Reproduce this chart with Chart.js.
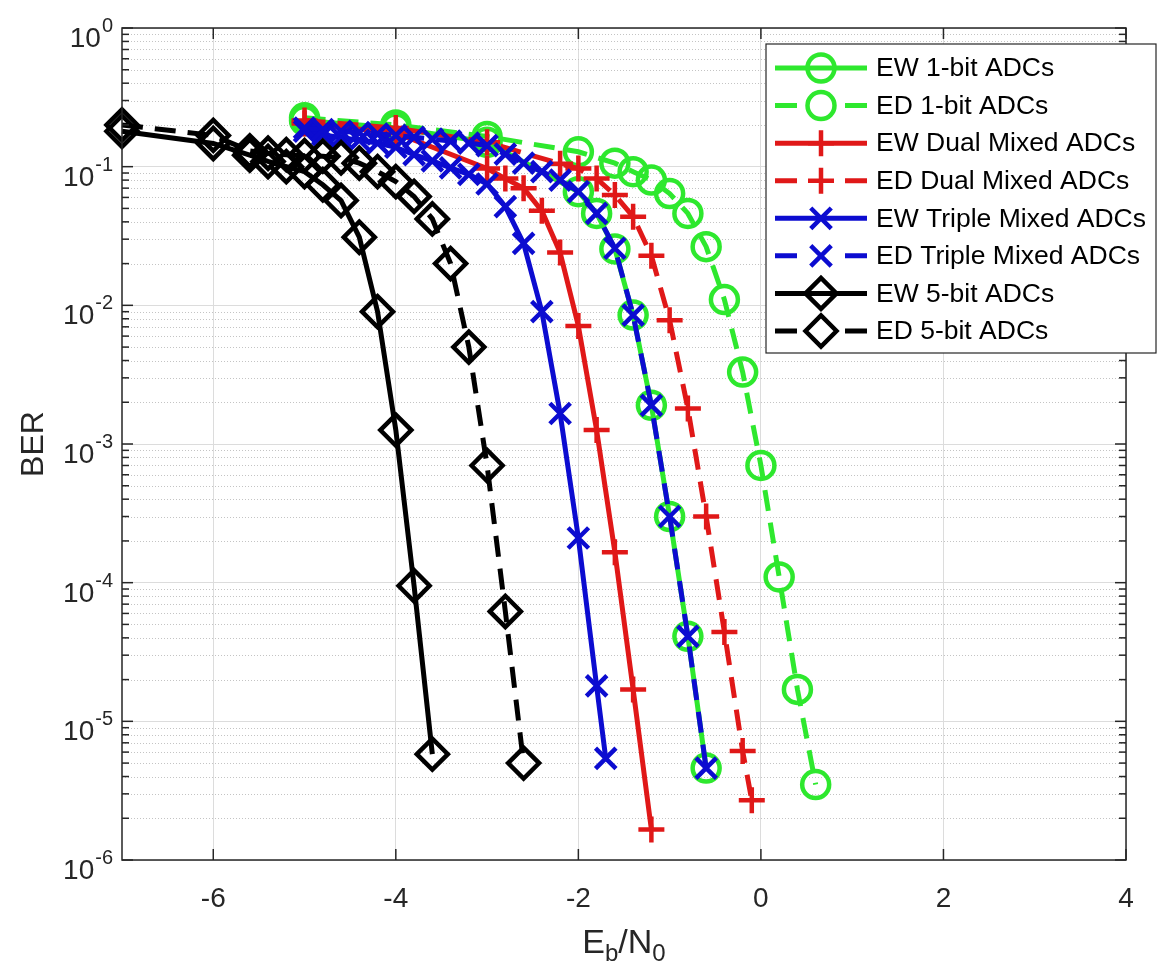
<!DOCTYPE html>
<html>
<head>
<meta charset="utf-8">
<title>BER vs Eb/N0</title>
<script src="https://cdn.jsdelivr.net/npm/chart.js@4.4.1/dist/chart.umd.min.js"></script>
<style>
  html, body { margin: 0; padding: 0; background: #fff; }
  canvas { display: block; }
</style>
</head>
<body>
<canvas id="berChart" width="1157" height="971"></canvas>
<script>
// ---- data (Eb/N0 in dB, BER) ----
const ew1bitX   = [-5, -4, -3, -2, -1.8, -1.6, -1.4, -1.2, -1, -0.8, -0.6];
const ew1bitBer = [0.215, 0.19, 0.15, 0.066, 0.046, 0.0255, 8.5e-3, 1.9e-3, 3.0e-4, 4.1e-5, 4.6e-6];

const ed1bitX   = [-5, -4, -3, -2, -1.6, -1.4, -1.2, -1, -0.8, -0.6, -0.4, -0.2, 0, 0.2, 0.4, 0.6];
const ed1bitBer = [0.225, 0.2, 0.165, 0.128, 0.106, 0.092, 0.08, 0.064, 0.046, 0.0265, 0.011, 3.3e-3, 7.0e-4, 1.1e-4, 1.7e-5, 3.5e-6];

const ewDualX   = [-5, -4, -3, -2.8, -2.6, -2.4, -2.2, -2, -1.8, -1.6, -1.4, -1.2];
const ewDualBer = [0.205, 0.175, 0.097, 0.082, 0.07, 0.048, 0.024, 7.1e-3, 1.26e-3, 1.66e-4, 1.7e-5, 1.66e-6];

const edDualX   = [-5, -4, -3, -2.2, -2, -1.8, -1.6, -1.4, -1.2, -1, -0.8, -0.6, -0.4, -0.2, -0.1];
const edDualBer = [0.215, 0.19, 0.15, 0.105, 0.097, 0.082, 0.0625, 0.0436, 0.0228, 7.8e-3, 1.8e-3, 3.0e-4, 4.4e-5, 6.1e-6, 2.7e-6];

const ewTripleX   = [-5, -4.8, -4.6, -4.4, -4.2, -4, -3.8, -3.6, -3.4, -3.2, -3, -2.8, -2.6, -2.4, -2.2, -2, -1.8, -1.7];
const ewTripleBer = [0.18, 0.17, 0.162, 0.155, 0.148, 0.138, 0.122, 0.11, 0.098, 0.088, 0.075, 0.0515, 0.028, 9.0e-3, 1.66e-3, 2.1e-4, 1.8e-5, 5.4e-6];

const edTripleX   = [-5, -4.8, -4.6, -4.4, -4.2, -4, -3.8, -3.6, -3.4, -3.2, -3, -2.8, -2.6, -2.4, -2.2, -2, -1.8, -1.6, -1.4, -1.2, -1, -0.8, -0.6];
const edTripleBer = [0.19, 0.185, 0.18, 0.176, 0.172, 0.168, 0.163, 0.158, 0.153, 0.148, 0.142, 0.123, 0.106, 0.092, 0.08, 0.066, 0.046, 0.0258, 8.5e-3, 1.9e-3, 3.0e-4, 4.1e-5, 4.6e-6];

const ew5bitX   = [-7, -6, -5.6, -5.4, -5.2, -5, -4.8, -4.6, -4.4, -4.2, -4, -3.8, -3.6];
const ew5bitBer = [0.18, 0.147, 0.121, 0.109, 0.1, 0.092, 0.074, 0.057, 0.031, 9.0e-3, 1.26e-3, 9.5e-5, 5.8e-6];

const ed5bitX   = [-7, -6, -5.6, -5.4, -5.2, -5, -4.8, -4.6, -4.4, -4.2, -4, -3.8, -3.6, -3.4, -3.2, -3, -2.8, -2.6];
const ed5bitBer = [0.2, 0.168, 0.13, 0.125, 0.122, 0.12, 0.119, 0.116, 0.106, 0.092, 0.078, 0.061, 0.042, 0.02, 5.0e-3, 7.0e-4, 6.2e-5, 5.0e-6];

const seriesLabels = [
  "EW 1-bit ADCs", "ED 1-bit ADCs",
  "EW Dual Mixed ADCs", "ED Dual Mixed ADCs",
  "EW Triple Mixed ADCs", "ED Triple Mixed ADCs",
  "EW 5-bit ADCs", "ED 5-bit ADCs"
];

const xTickValues = [-6, -4, -2, 0, 2, 4];
const yDecades = [-6, -5, -4, -3, -2, -1, 0];
const xTitle = ["E", "b", "/N", "0"];   // E_b/N_0
const yTitle = "BER";

// ---- styling ----
const FONT = '"Liberation Sans", Arial, Helvetica, sans-serif';
const AXIS_COLOR = "#262626";
const GREEN = "#2ee82e";
const RED = "#e01818";
const BLUE = "#0c0cd0";
const BLACK = "#000000";
const DASH = [21, 12];

const markerSize = { circle: 13.5, cross: 13, crossRot: 14.5, rectRot: 15.5 };

const toPoints = (xs, ys) => xs.map((x, i) => ({ x: x, y: ys[i] }));

const makeSeries = (idx, xs, ys, color, dashed, marker) => ({
  label: seriesLabels[idx],
  data: toPoints(xs, ys),
  borderColor: color,
  backgroundColor: "rgba(0,0,0,0)",
  borderWidth: 5,
  borderDash: dashed ? DASH : [],
  pointStyle: marker,
  pointRadius: markerSize[marker],
  pointBorderWidth: 4.5,
  pointBorderColor: color,
  pointBackgroundColor: "rgba(0,0,0,0)",
  tension: 0,
  clip: false,
  order: seriesLabels.length - idx   // later series drawn on top, like MATLAB
});

const datasets = [
  makeSeries(0, ew1bitX, ew1bitBer, GREEN, false, "circle"),
  makeSeries(1, ed1bitX, ed1bitBer, GREEN, true, "circle"),
  makeSeries(2, ewDualX, ewDualBer, RED, false, "cross"),
  makeSeries(3, edDualX, edDualBer, RED, true, "cross"),
  makeSeries(4, ewTripleX, ewTripleBer, BLUE, false, "crossRot"),
  makeSeries(5, edTripleX, edTripleBer, BLUE, true, "crossRot"),
  makeSeries(6, ew5bitX, ew5bitBer, BLACK, false, "rectRot"),
  makeSeries(7, ed5bitX, ed5bitBer, BLACK, true, "rectRot")
];

// ---- axes frame, minor grid, tick labels, titles, legend ----
const matlabFrame = {
  id: "matlabFrame",
  beforeDraw(chart) {
    const ctx = chart.ctx;
    ctx.save();
    ctx.fillStyle = "#fff";
    ctx.fillRect(0, 0, chart.width, chart.height);
    ctx.restore();
  },
  beforeDatasetsDraw(chart) {
    // dotted minor grid on the log axis
    const { ctx, chartArea: a, scales: { y } } = chart;
    ctx.save();
    ctx.strokeStyle = "#c4c4c4";
    ctx.lineWidth = 1;
    ctx.setLineDash([1, 2]);
    for (let e = yDecades[0]; e < yDecades[yDecades.length - 1]; e++) {
      for (let m = 2; m <= 9; m++) {
        const py = Math.round(y.getPixelForValue(m * Math.pow(10, e))) + 0.5;
        ctx.beginPath();
        ctx.moveTo(a.left, py);
        ctx.lineTo(a.right, py);
        ctx.stroke();
      }
    }
    ctx.restore();
  },
  afterDraw(chart) {
    const { ctx, chartArea: a, scales: { x, y } } = chart;
    ctx.save();

    // box
    ctx.strokeStyle = AXIS_COLOR;
    ctx.lineWidth = 1.5;
    ctx.strokeRect(a.left, a.top, a.right - a.left, a.bottom - a.top);

    // ticks pointing inward
    const tick = (x1, y1, x2, y2) => { ctx.beginPath(); ctx.moveTo(x1, y1); ctx.lineTo(x2, y2); ctx.stroke(); };
    xTickValues.forEach(v => {
      const px = x.getPixelForValue(v);
      tick(px, a.bottom, px, a.bottom - 11);
      tick(px, a.top, px, a.top + 11);
    });
    for (let e = yDecades[0]; e <= yDecades[yDecades.length - 1]; e++) {
      const py = y.getPixelForValue(Math.pow(10, e));
      tick(a.left, py, a.left + 11, py);
      tick(a.right, py, a.right - 11, py);
      if (e === yDecades[yDecades.length - 1]) break;
      for (let m = 2; m <= 9; m++) {
        const pm = y.getPixelForValue(m * Math.pow(10, e));
        tick(a.left, pm, a.left + 7, pm);
        tick(a.right, pm, a.right - 7, pm);
      }
    }

    // x tick labels
    ctx.fillStyle = AXIS_COLOR;
    ctx.font = "28px " + FONT;
    ctx.textAlign = "center";
    ctx.textBaseline = "alphabetic";
    xTickValues.forEach(v => ctx.fillText(String(v), x.getPixelForValue(v), a.bottom + 47));

    // y tick labels: 10^k
    ctx.textAlign = "left";
    yDecades.forEach(e => {
      const py = y.getPixelForValue(Math.pow(10, e));
      const expText = String(e);
      ctx.font = "20px " + FONT;
      const ew = ctx.measureText(expText).width;
      ctx.font = "28px " + FONT;
      const bw = ctx.measureText("10").width;
      const left = 112 - ew - bw;
      ctx.fillText("10", left, py + 19);
      ctx.font = "20px " + FONT;
      ctx.fillText(expText, left + bw + 1, py + 4);
    });

    // x title E_b/N_0
    const big = "34px " + FONT, small = "24px " + FONT;
    const parts = [
      { t: xTitle[0], f: big, dy: 0 }, { t: xTitle[1], f: small, dy: 8 },
      { t: xTitle[2], f: big, dy: 0 }, { t: xTitle[3], f: small, dy: 8 }
    ];
    let total = 0;
    parts.forEach(p => { ctx.font = p.f; p.w = ctx.measureText(p.t).width; total += p.w; });
    let cx = (a.left + a.right) / 2 - total / 2;
    const base = a.bottom + 93;
    parts.forEach(p => { ctx.font = p.f; ctx.fillText(p.t, cx, base + p.dy); cx += p.w; });

    // y title
    ctx.save();
    ctx.translate(43, (a.top + a.bottom) / 2);
    ctx.rotate(-Math.PI / 2);
    ctx.textAlign = "center";
    ctx.font = "32px " + FONT;
    ctx.fillText(yTitle, 0, 0);
    ctx.restore();

    // legend
    const lg = { left: 766, top: 44, right: 1156, bottom: 353 };
    ctx.fillStyle = "#fff";
    ctx.fillRect(lg.left, lg.top, lg.right - lg.left, lg.bottom - lg.top);
    ctx.strokeStyle = AXIS_COLOR;
    ctx.lineWidth = 1.2;
    ctx.strokeRect(lg.left, lg.top, lg.right - lg.left, lg.bottom - lg.top);
    const rowH = (lg.bottom - lg.top - 46) / (chart.data.datasets.length - 1);
    chart.data.datasets.forEach((ds, i) => {
      const ry = lg.top + 24 + i * rowH;
      const x0 = 775, x1 = 867, xm = (x0 + x1) / 2;
      ctx.strokeStyle = ds.borderColor;
      ctx.lineWidth = ds.borderWidth;
      ctx.setLineDash([]);
      ctx.beginPath();
      if (ds.borderDash.length) {
        ctx.moveTo(x0, ry); ctx.lineTo(x0 + 22, ry);
        ctx.moveTo(x1 - 22, ry); ctx.lineTo(x1, ry);
      } else {
        ctx.moveTo(x0, ry); ctx.lineTo(x1, ry);
      }
      ctx.stroke();
      ctx.lineWidth = ds.pointBorderWidth;
      ctx.fillStyle = "rgba(0,0,0,0)";
      Chart.helpers.drawPoint(ctx, {
        pointStyle: ds.pointStyle, radius: ds.pointRadius, rotation: 0, borderWidth: ds.pointBorderWidth
      }, xm, ry);
      ctx.fillStyle = "#000";
      ctx.font = "26.5px " + FONT;
      ctx.textAlign = "left";
      ctx.textBaseline = "middle";
      ctx.fillText(ds.label, 876, ry + 1);
    });

    ctx.restore();
  }
};

new Chart(document.getElementById("berChart").getContext("2d"), {
  type: "line",
  data: { datasets: datasets },
  options: {
    responsive: false,
    devicePixelRatio: 1,
    animation: false,
    events: [],
    layout: { padding: { left: 122, top: 28, right: 31, bottom: 111 } },
    plugins: { legend: { display: false }, tooltip: { enabled: false } },
    scales: {
      x: {
        type: "linear",
        min: -7,
        max: 4,
        afterBuildTicks: (scale) => { scale.ticks = xTickValues.map(v => ({ value: v })); },
        afterFit: (scale) => { scale.height = 0; },
        ticks: { display: false },
        grid: { color: "#dcdcdc", lineWidth: 1, drawTicks: false },
        border: { display: false }
      },
      y: {
        type: "logarithmic",
        min: 1e-6,
        max: 1,
        afterBuildTicks: (scale) => { scale.ticks = yDecades.map(e => ({ value: Math.pow(10, e) })); },
        afterFit: (scale) => { scale.width = 0; },
        ticks: { display: false },
        grid: { color: "#dcdcdc", lineWidth: 1, drawTicks: false },
        border: { display: false }
      }
    }
  },
  plugins: [matlabFrame]
});
</script>
</body>
</html>
